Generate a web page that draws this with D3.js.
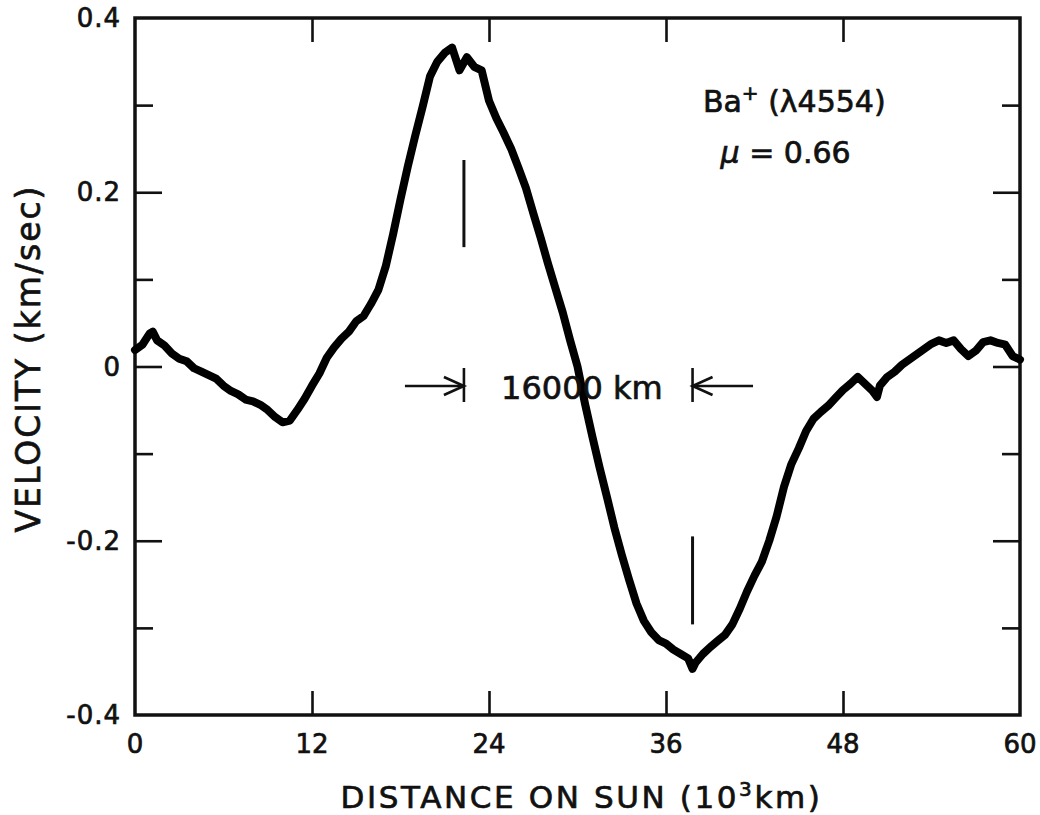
<!DOCTYPE html>
<html>
<head>
<meta charset="utf-8">
<script src="https://cdn.jsdelivr.net/npm/d3@7"></script>
<style>
  body { margin: 0; background: #fff; }
  svg text { font-family: "DejaVu Sans", sans-serif; fill: #111; stroke: #111; stroke-width: 0.7px; }
</style>
</head>
<body>
<svg id="chart"></svg>
<script>
// distance on sun (10^3 km) and velocity (km/sec)
const distance = [
  0, 0.5, 1.0, 1.2, 1.5, 2.0, 2.5, 3.0, 3.5, 4.0, 4.5, 5.0, 5.5, 6.0, 6.5, 7.0, 7.5, 8.0, 8.5, 9.0, 9.5, 10.0, 10.5,
  11.0, 11.5, 12.0, 12.5, 13.0, 13.5, 14.0, 14.5, 15.0, 15.5, 16.0, 16.5, 17.0, 17.5, 18.0, 18.5, 19.0, 19.5,
  20.0, 20.5, 21.0, 21.5, 22.0, 22.5, 23.0, 23.5, 24.0, 24.5, 25.0, 25.5, 26.0, 26.5, 27.0, 27.5, 28.0, 28.5,
  29.0, 29.5, 30.0, 30.5, 31.0, 31.5, 32.0, 32.5, 33.0, 33.5, 34.0, 34.5, 35.0, 35.5, 36.0, 36.5, 37.0, 37.5,
  37.8, 38.0, 38.5, 39.0, 39.5, 40.0, 40.5, 41.0, 41.5, 42.0, 42.5, 43.0, 43.5, 44.0, 44.5, 45.0, 45.5, 46.0,
  46.5, 47.0, 47.5, 48.0, 48.5, 49.0, 49.5, 50.0, 50.3, 50.5, 51.0, 51.5, 52.0, 52.5, 53.0, 53.5, 54.0, 54.5,
  55.0, 55.5, 56.0, 56.5, 57.0, 57.5, 58.0, 58.5, 59.0, 59.5, 60.0
];
const velocity = [
  0.019, 0.025, 0.038, 0.040, 0.030, 0.024, 0.015, 0.009, 0.006, -0.002, -0.006, -0.010, -0.014, -0.022, -0.028,
  -0.032, -0.038, -0.040, -0.044, -0.050, -0.058, -0.064, -0.062,
  -0.050, -0.037, -0.022, -0.008, 0.010, 0.022, 0.032, 0.040, 0.052, 0.058, 0.072, 0.088, 0.115, 0.152, 0.192,
  0.230, 0.265, 0.298,
  0.333, 0.350, 0.360, 0.366, 0.340, 0.355, 0.344, 0.340, 0.305, 0.285, 0.268, 0.250, 0.228, 0.205, 0.176,
  0.148, 0.118, 0.090,
  0.062, 0.030, 0.000, -0.042, -0.080, -0.116, -0.150, -0.185, -0.216, -0.245, -0.272, -0.292, -0.305, -0.314,
  -0.318, -0.325, -0.330, -0.335,
  -0.347, -0.340, -0.330, -0.322, -0.315, -0.308, -0.296, -0.278, -0.258, -0.240, -0.224, -0.200, -0.172,
  -0.138, -0.112, -0.094, -0.074, -0.060,
  -0.052, -0.045, -0.036, -0.027, -0.020, -0.012, -0.020, -0.028, -0.035, -0.022, -0.012, -0.006, 0.002,
  0.008, 0.014, 0.020, 0.026, 0.030,
  0.027, 0.030, 0.020, 0.012, 0.018, 0.028, 0.030, 0.027, 0.025, 0.012, 0.008
];

const xTicks = [0, 12, 24, 36, 48, 60];
const yMajor = [-0.4, -0.2, 0, 0.2, 0.4];
const yMajorLabels = ["-0.4", "-0.2", "0", "0.2", "0.4"];
const yMinor = [-0.3, -0.1, 0.1, 0.3];

// annotation values (data units)
const markers = [
  { x: 22.3, y0: 0.137, y1: 0.237 },
  { x: 37.8, y0: -0.296, y1: -0.195 }
];
const spanFrom = 22.3, spanTo = 37.8, spanY = -0.0224;

const width = 1040, height = 815;
const margin = { top: 18, right: 20, bottom: 100, left: 135 };
const W = width - margin.left - margin.right;
const H = height - margin.top - margin.bottom;

const svg = d3.select("#chart")
  .attr("width", width)
  .attr("height", height);

const g = svg.append("g")
  .attr("transform", `translate(${margin.left},${margin.top})`);

const x = d3.scaleLinear().domain([0, 60]).range([0, W]);
const y = d3.scaleLinear().domain([-0.4, 0.4]).range([H, 0]);

// inward ticks on all four sides
function styleAxis(sel) {
  sel.select(".domain").remove();
  sel.selectAll(".tick line").attr("stroke", "#111").attr("stroke-width", 2.6);
  sel.selectAll(".tick text").remove();
}
g.append("g").attr("transform", `translate(0,${H})`)
  .call(d3.axisBottom(x).tickValues(xTicks.slice(1, -1)).tickSize(-24)).call(styleAxis);
g.append("g")
  .call(d3.axisTop(x).tickValues(xTicks.slice(1, -1)).tickSize(-24)).call(styleAxis);
g.append("g")
  .call(d3.axisLeft(y).tickValues(yMajor.slice(1, -1)).tickSize(-27)).call(styleAxis);
g.append("g")
  .call(d3.axisLeft(y).tickValues(yMinor).tickSize(-18)).call(styleAxis);
g.append("g").attr("transform", `translate(${W},0)`)
  .call(d3.axisRight(y).tickValues(yMajor.slice(1, -1)).tickSize(-27)).call(styleAxis);
g.append("g").attr("transform", `translate(${W},0)`)
  .call(d3.axisRight(y).tickValues(yMinor).tickSize(-18)).call(styleAxis);

// frame
g.append("rect")
  .attr("width", W).attr("height", H)
  .attr("fill", "none").attr("stroke", "#111").attr("stroke-width", 3.5);

// tick labels
g.selectAll(".xlab").data(xTicks).enter().append("text")
  .attr("x", d => x(d)).attr("y", H + 38)
  .attr("text-anchor", "middle")
  .style("font-size", "26px")
  .text(d => d);

g.selectAll(".ylab").data(yMajor).enter().append("text")
  .attr("x", -14).attr("y", d => y(d) + 9)
  .attr("text-anchor", "end")
  .style("font-size", "26px")
  .style("letter-spacing", "1px")
  .text((d, i) => yMajorLabels[i]);

// axis titles
svg.append("text")
  .attr("x", margin.left + W / 2 + 4).attr("y", 808)
  .attr("text-anchor", "middle")
  .style("font-size", "31px")
  .style("letter-spacing", "2.6px")
  .html('DISTANCE ON SUN (10<tspan dy="-12" style="font-size:20px">3</tspan><tspan dy="12">km)</tspan>');

svg.append("text")
  .attr("transform", `translate(40,${margin.top + H / 2 - 8}) rotate(-90)`)
  .attr("text-anchor", "middle")
  .style("font-size", "33px")
  .style("letter-spacing", "2px")
  .text("VELOCITY (km/sec)");

// the velocity trace
const line = d3.line()
  .x((d, i) => x(distance[i]))
  .y(d => y(d));

g.append("path")
  .datum(velocity)
  .attr("d", line)
  .attr("fill", "none")
  .attr("stroke", "#000")
  .attr("stroke-width", 8)
  .attr("stroke-linejoin", "round")
  .attr("stroke-linecap", "round");

// vertical markers at the extrema
g.selectAll(".marker").data(markers).enter().append("line")
  .attr("x1", d => x(d.x)).attr("x2", d => x(d.x))
  .attr("y1", d => y(d.y0)).attr("y2", d => y(d.y1))
  .attr("stroke", "#111").attr("stroke-width", 3);

// 16000 km span arrows
const ay = y(spanY);
const arrows = g.append("g").attr("stroke", "#111").attr("stroke-width", 2.6).attr("fill", "none");
[spanFrom, spanTo].forEach(v => {
  arrows.append("line")
    .attr("x1", x(v)).attr("x2", x(v))
    .attr("y1", ay - 18).attr("y2", ay + 16);
});
arrows.append("line").attr("x1", x(18.3)).attr("x2", x(spanFrom)).attr("y1", ay).attr("y2", ay);
arrows.append("path").attr("d", `M${x(spanFrom) - 20},${ay - 9} L${x(spanFrom)},${ay} L${x(spanFrom) - 20},${ay + 9}`);
arrows.append("line").attr("x1", x(spanTo)).attr("x2", x(41.9)).attr("y1", ay).attr("y2", ay);
arrows.append("path").attr("d", `M${x(spanTo) + 20},${ay - 9} L${x(spanTo)},${ay} L${x(spanTo) + 20},${ay + 9}`);

g.append("text")
  .attr("x", x(30.3)).attr("y", ay + 13)
  .attr("text-anchor", "middle")
  .style("font-size", "32px")
  .text("16000 km");

// line label
g.append("text")
  .attr("x", x(38.5)).attr("y", y(0.292))
  .style("font-size", "30px")
  .html('Ba<tspan dy="-12" style="font-size:20px">+</tspan><tspan dy="12"> (λ4554)</tspan>');

g.append("text")
  .attr("x", x(39.7)).attr("y", y(0.234))
  .style("font-size", "30px")
  .html('<tspan style="font-style:italic">μ</tspan> = 0.66');
</script>
</body>
</html>
